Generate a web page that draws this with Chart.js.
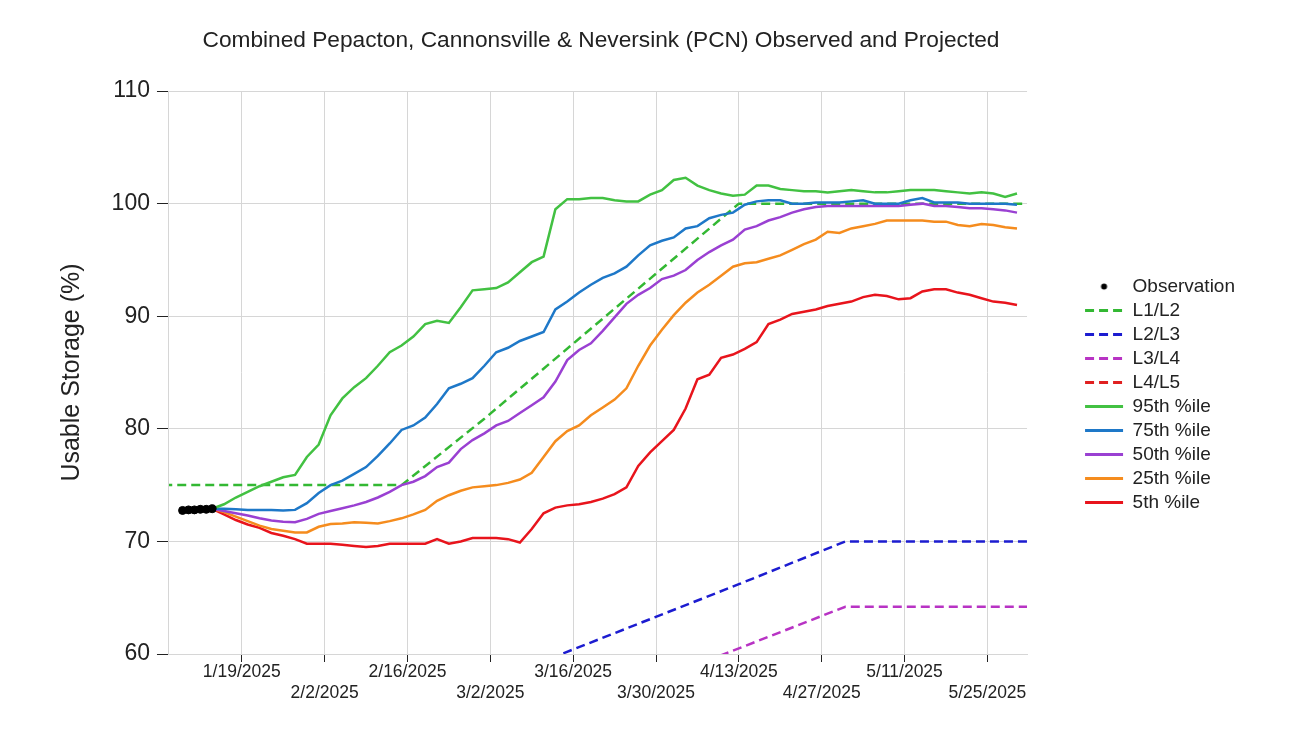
<!DOCTYPE html>
<html>
<head>
<meta charset="utf-8">
<title>PCN Observed and Projected</title>
<script src="https://cdn.jsdelivr.net/npm/chart.js@4.4.1/dist/chart.umd.min.js"></script>
<style>
  html, body { margin: 0; padding: 0; background: #fff; }
  #wrap { width: 1297px; height: 736px; position: relative; }
</style>
</head>
<body>
<div id="wrap"><canvas id="pcn"></canvas></div>
<script>
// x values are day-of-year offsets (1/1/2025 = 0)
const tickDays = [18, 32, 46, 60, 74, 88, 102, 116, 130, 144];
const tickLabels = ['1/19/2025', '2/2/2025', '2/16/2025', '3/2/2025', '3/16/2025',
                    '3/30/2025', '4/13/2025', '4/27/2025', '5/11/2025', '5/25/2025'];

const obsDays = [8, 9, 10, 11, 12, 13];
const obsValues = [72.75, 72.8, 72.8, 72.85, 72.85, 72.9];

// drought rule curves (vertices)
const ruleDays = [0, 45, 59, 102, 120, 151];
const l1l2 = [75, 75, 80.9, 100, 100, 100];
const l2l3 = [57.3, 57.3, 57.3, 66.2, 70, 70];
const l3l4 = [51.7, 51.7, 51.7, 60.5, 64.2, 64.2];
const l4l5 = [40, 40, 40, 51.5, 55, 55];

const projDays = [13, 15, 17, 19, 21, 23, 25, 27, 29, 31, 33, 35, 37, 39, 41, 43, 45, 47, 49, 51,
  53, 55, 57, 59, 61, 63, 65, 67, 69, 71, 73, 75, 77, 79, 81, 83, 85, 87, 89, 91,
  93, 95, 97, 99, 101, 103, 105, 107, 109, 111, 113, 115, 117, 119, 121, 123, 125, 127, 129, 131,
  133, 135, 137, 139, 141, 143, 145, 147, 149];

const p95 = [72.9, 73.3, 73.9, 74.4, 74.9, 75.3, 75.7, 75.9, 77.5, 78.6,
  81.2, 82.7, 83.7, 84.5, 85.6, 86.8, 87.4, 88.2, 89.3, 89.6,
  89.4, 90.8, 92.3, 92.4, 92.5, 93.0, 93.9, 94.8, 95.3, 99.5,
  100.4, 100.4, 100.5, 100.5, 100.3, 100.2, 100.2, 100.8, 101.2, 102.1,
  102.3, 101.6, 101.2, 100.9, 100.7, 100.8, 101.6, 101.6, 101.3, 101.2,
  101.1, 101.1, 101.0, 101.1, 101.2, 101.1, 101.0, 101.0, 101.1, 101.2,
  101.2, 101.2, 101.1, 101.0, 100.9, 101.0, 100.9, 100.6, 100.9];

const p75 = [72.9, 72.9, 72.85, 72.8, 72.8, 72.8, 72.75, 72.8, 73.4, 74.3,
  75.0, 75.4, 76.0, 76.6, 77.6, 78.7, 79.9, 80.3, 81.0, 82.2,
  83.6, 84.0, 84.5, 85.6, 86.8, 87.2, 87.8, 88.2, 88.6, 90.6,
  91.3, 92.1, 92.8, 93.4, 93.8, 94.4, 95.4, 96.3, 96.7, 97.0,
  97.8, 98.0, 98.7, 99.0, 99.2, 99.9, 100.2, 100.3, 100.3, 100.0,
  100.0, 100.1, 100.1, 100.1, 100.2, 100.3, 100.0, 100.0, 100.0, 100.3,
  100.5, 100.1, 100.1, 100.1, 100.0, 100.0, 100.0, 100.0, 99.9];

const p50 = [72.9, 72.7, 72.5, 72.3, 72.05, 71.85, 71.75, 71.7, 72.0, 72.45,
  72.7, 72.95, 73.2, 73.5, 73.9, 74.4, 75.0, 75.3, 75.8, 76.6,
  77.0, 78.2, 79.0, 79.6, 80.3, 80.7, 81.4, 82.1, 82.8, 84.2,
  86.1, 87.0, 87.6, 88.7, 89.9, 91.1, 91.9, 92.5, 93.3, 93.6,
  94.1, 95.0, 95.7, 96.3, 96.8, 97.7, 98.0, 98.5, 98.8, 99.2,
  99.5, 99.7, 99.8, 99.8, 99.8, 99.8, 99.8, 99.8, 99.8, 99.9,
  100.0, 99.8, 99.8, 99.7, 99.6, 99.6, 99.5, 99.4, 99.2];

const p25 = [72.9, 72.6, 72.2, 71.8, 71.4, 71.1, 70.95, 70.8, 70.8, 71.3,
  71.55, 71.6, 71.7, 71.65, 71.6, 71.8, 72.05, 72.4, 72.8, 73.6,
  74.1, 74.5, 74.8, 74.9, 75.0, 75.2, 75.5, 76.1, 77.5, 78.9,
  79.8, 80.3, 81.2, 81.9, 82.6, 83.6, 85.6, 87.4, 88.8, 90.1,
  91.2, 92.1, 92.8, 93.6, 94.4, 94.7, 94.8, 95.1, 95.4, 95.9,
  96.4, 96.8, 97.5, 97.4, 97.8, 98.0, 98.2, 98.5, 98.5, 98.5,
  98.5, 98.4, 98.4, 98.1, 98.0, 98.2, 98.1, 97.9, 97.8];

const p5 = [72.9, 72.4, 71.9, 71.5, 71.2, 70.75, 70.5, 70.2, 69.8, 69.8,
  69.8, 69.7, 69.6, 69.5, 69.6, 69.8, 69.8, 69.8, 69.8, 70.2,
  69.8, 70.0, 70.3, 70.3, 70.3, 70.2, 69.9, 71.1, 72.5, 73.0,
  73.2, 73.3, 73.5, 73.8, 74.2, 74.8, 76.7, 77.9, 78.9, 79.9,
  81.8, 84.4, 84.8, 86.3, 86.6, 87.1, 87.7, 89.3, 89.7, 90.2,
  90.4, 90.6, 90.9, 91.1, 91.3, 91.7, 91.9, 91.8, 91.5, 91.6,
  92.2, 92.4, 92.4, 92.1, 91.9, 91.6, 91.3, 91.2, 91.0];

const FONT = "'Liberation Sans', Arial, sans-serif";
const GRID = '#d6d6d6';
const INK = '#222';

const pts = (xs, ys) => xs.map((x, i) => ({ x: x, y: ys[i] }));

const dashed = (label, color, xs, ys) => ({
  label, data: pts(xs, ys), borderColor: color, backgroundColor: color,
  borderWidth: 2.5, borderDash: [9, 5], pointRadius: 0, order: 2
});
const solid = (label, color, ys) => ({
  label, data: pts(projDays, ys), borderColor: color, backgroundColor: color,
  borderWidth: 2.5, pointRadius: 0, order: 1
});

// small black dot for the legend entry of observations
const dot = document.createElement('canvas');
dot.width = 9; dot.height = 9;
const dctx = dot.getContext('2d');
dctx.fillStyle = '#000';
dctx.beginPath(); dctx.arc(4.5, 4.5, 3, 0, Math.PI * 2); dctx.fill();

const legendNudge = {
  id: 'legendNudge',
  afterLayout(chart) {
    const lg = chart.legend, area = chart.chartArea;
    const dx = area.right + 53 - lg.left;
    lg.left += dx; lg.right += dx;
    const dy = (area.top + area.bottom) / 2 + 22 - (lg.top + lg.bottom) / 2;
    lg.top += dy; lg.bottom += dy;
  }
};

new Chart(document.getElementById('pcn'), {
  type: 'line',
  data: {
    datasets: [
      { label: 'Observation', data: pts(obsDays, obsValues), showLine: false,
        pointRadius: 4, pointBackgroundColor: '#000', pointBorderColor: '#000',
        borderColor: '#000', backgroundColor: '#000', order: 0 },
      dashed('L1/L2', '#33b833', ruleDays, l1l2),
      dashed('L2/L3', '#1c1cd0', ruleDays, l2l3),
      dashed('L3/L4', '#b833c4', ruleDays, l3l4),
      dashed('L4/L5', '#e02020', ruleDays, l4l5),
      solid('95th %ile', '#42c142', p95),
      solid('75th %ile', '#1e78c8', p75),
      solid('50th %ile', '#9a40d2', p50),
      solid('25th %ile', '#f58c1e', p25),
      solid('5th %ile', '#e8141c', p5)
    ]
  },
  options: {
    responsive: true,
    maintainAspectRatio: false,
    animation: false,
    layout: { padding: { left: 10, right: 105, top: 0, bottom: 32 } },
    plugins: {
      title: {
        display: true,
        text: 'Combined Pepacton, Cannonsville & Neversink (PCN) Observed and Projected',
        color: INK,
        font: { family: FONT, size: 22.7, weight: 'normal' },
        padding: { top: 27.4, bottom: 36.4 }
      },
      legend: {
        position: 'right',
        labels: {
          usePointStyle: true,
          pointStyleWidth: 38,
          color: INK,
          font: { family: FONT, size: 19 },
          padding: 5,
          sort: (a, b) => a.datasetIndex - b.datasetIndex,
          generateLabels(chart) {
            const items = Chart.defaults.plugins.legend.labels.generateLabels(chart);
            items.forEach(it => {
              const ds = chart.data.datasets[it.datasetIndex];
              if (it.datasetIndex === 0) {
                it.pointStyle = dot;
              } else {
                it.pointStyle = 'line';
                it.lineDash = ds.borderDash || [];
                it.lineWidth = 3;
                it.strokeStyle = ds.borderColor;
              }
            });
            return items;
          }
        }
      },
      tooltip: { enabled: false }
    },
    scales: {
      x: {
        type: 'linear',
        min: 5.7,
        max: 150.7,
        afterBuildTicks: (axis) => { axis.ticks = tickDays.map(v => ({ value: v })); },
        ticks: {
          autoSkip: false,
          maxRotation: 0,
          padding: 0,
          color: INK,
          font: { family: FONT, size: 17.5 },
          callback: (value) => {
            const i = tickDays.indexOf(value);
            return i % 2 === 0 ? tickLabels[i] : ['', tickLabels[i]];
          }
        },
        grid: { color: GRID, tickColor: INK, tickLength: 8, lineWidth: 1 },
        border: { color: GRID }
      },
      y: {
        min: 60,
        max: 110,
        ticks: { stepSize: 10, padding: 7, color: INK, font: { family: FONT, size: 23 } },
        grid: { color: GRID, tickColor: INK, tickLength: 12 },
        border: { color: GRID },
        title: {
          display: true,
          text: 'Usable Storage (%)',
          color: INK,
          font: { family: FONT, size: 25 },
          padding: { top: 47, bottom: 17.6 }
        }
      }
    }
  },
  plugins: [legendNudge]
});
</script>
</body>
</html>
